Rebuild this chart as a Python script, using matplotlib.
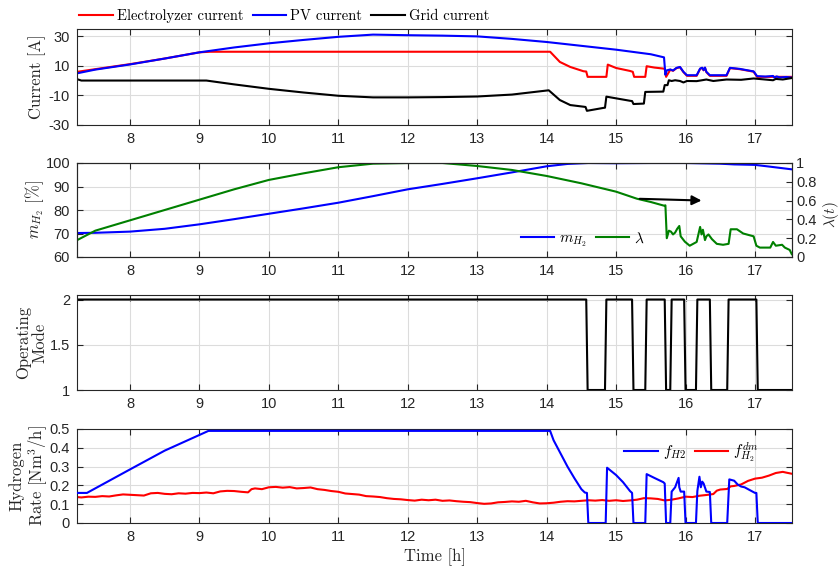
import matplotlib
matplotlib.use("Agg")
import matplotlib.pyplot as plt
from matplotlib.ticker import FormatStrFormatter

plt.rcParams["font.family"] = ["Liberation Sans", "DejaVu Sans"]
plt.rcParams["mathtext.fontset"] = "cm"
plt.rcParams["axes.unicode_minus"] = False

# ---- panel 1: currents [A] ----
pv_t = [7.24, 7.5, 8.0, 8.5, 9.0, 9.5, 10.0, 10.5, 11.0, 11.5, 12.0, 12.5, 13.0,
        13.5, 14.0, 14.5, 15.0, 15.5, 15.69, 15.71, 15.73, 15.78, 15.82, 15.87,
        15.92, 15.97, 16.02, 16.16, 16.21, 16.24, 16.26, 16.28, 16.30, 16.35,
        16.59, 16.64, 16.78, 16.98, 17.03, 17.15, 17.26, 17.28, 17.31, 17.36,
        17.45, 17.53]
pv_i = [5.0, 7.5, 11.0, 15.0, 19.2, 22.5, 25.3, 27.6, 29.7, 31.2, 30.8, 30.5,
        30.0, 28.3, 26.2, 23.6, 21.0, 17.9, 15.8, 4.0, 7.0, 7.6, 6.9, 8.7, 9.3,
        6.0, 3.7, 3.7, 8.2, 8.8, 7.2, 8.9, 6.0, 3.7, 3.7, 8.7, 8.0, 6.3, 3.1,
        2.8, 3.2, 2.1, 2.9, 2.2, 2.5, 2.1]

el_t = [7.24, 7.5, 8.0, 8.5, 9.0, 9.15, 14.05, 14.19, 14.34, 14.53, 14.57,
        14.59, 14.86, 14.88, 15.0, 15.2, 15.24, 15.26, 15.42, 15.44, 15.55,
        15.68, 15.70, 15.72, 15.78, 15.82, 15.87, 15.92, 15.97, 16.02, 16.16,
        16.21, 16.24, 16.26, 16.28, 16.30, 16.35, 16.59, 16.64, 16.78, 16.98,
        17.03, 17.53]
el_i = [6.0, 7.8, 11.2, 15.0, 19.2, 19.6, 19.6, 12.7, 9.3, 6.4, 6.2, 2.6, 2.6,
        10.9, 8.6, 6.6, 6.0, 2.6, 2.6, 9.8, 8.9, 8.2, 8.0, 2.6, 7.4, 6.7, 8.5,
        9.1, 5.8, 3.3, 3.3, 8.0, 8.6, 7.0, 8.7, 5.8, 3.3, 3.3, 8.5, 7.8, 6.1,
        2.6, 2.6]

gr_t = [7.24, 7.3, 9.1, 9.5, 10.0, 10.5, 11.0, 11.5, 12.0, 12.5, 13.0, 13.5,
        14.03, 14.19, 14.34, 14.53, 14.56, 14.58, 14.82, 14.84, 14.86, 15.2,
        15.23, 15.25, 15.40, 15.42, 15.68, 15.70, 15.74, 15.76, 15.80, 15.85,
        15.92, 15.97, 16.02, 16.16, 16.30, 16.40, 16.59, 16.80, 16.98, 17.10,
        17.26, 17.30, 17.40, 17.53]
gr_i = [1.0, 0.1, 0.1, -2.5, -5.5, -8.0, -10.2, -11.3, -11.3, -11.1, -10.7,
        -9.4, -6.5, -13.1, -16.5, -17.6, -17.8, -20.4, -18.4, -18.3, -10.8,
        -13.6, -13.8, -15.8, -15.5, -7.6, -7.4, -3.0, -3.0, 0.3, -0.2, 0.3,
        -0.2, -1.2, -0.2, -0.3, 0.8, -0.2, 0.8, 0.6, 1.5, 1.0, 0.3, 1.2, 0.8,
        1.8]

# ---- panel 2: m_H2 [%] and lambda ----
m_t = [7.24, 7.5, 8.0, 8.5, 9.0, 9.5, 10.0, 10.5, 11.0, 11.5, 12.0, 12.5, 13.0,
       13.5, 14.0, 14.3, 14.6, 15.0, 15.5, 16.0, 16.5, 16.7, 17.0, 17.2, 17.53]
m_v = [70.2, 70.3, 70.8, 72.0, 73.9, 76.1, 78.4, 80.7, 83.1, 85.9, 88.8, 91.1,
       93.5, 96.0, 98.6, 99.6, 100.0, 99.9, 100.0, 100.0, 99.7, 99.4, 99.2,
       98.5, 97.3]

lam_t = [7.24, 7.5, 8.0, 8.5, 9.0, 9.5, 10.0, 10.5, 11.0, 11.5, 12.0, 12.5,
         13.0, 13.5, 14.0, 14.5, 15.0, 15.3, 15.5, 15.69, 15.71, 15.73, 15.76,
         15.79, 15.82, 15.85, 15.88, 15.91, 15.93, 15.99, 16.06, 16.16, 16.21,
         16.23, 16.25, 16.28, 16.30, 16.33, 16.38, 16.45, 16.54, 16.62, 16.65,
         16.74, 16.83, 16.98, 17.02, 17.07, 17.22, 17.26, 17.30, 17.39, 17.43,
         17.50, 17.53]
lam_v = [0.18, 0.28, 0.39, 0.50, 0.61, 0.72, 0.82, 0.89, 0.955, 0.993, 1.0,
         1.0, 0.968, 0.926, 0.862, 0.784, 0.695, 0.62, 0.585, 0.546, 0.55, 0.2,
         0.28, 0.27, 0.24, 0.26, 0.30, 0.33, 0.22, 0.163, 0.12, 0.16, 0.32,
         0.24, 0.29, 0.18, 0.22, 0.24, 0.19, 0.14, 0.13, 0.14, 0.295, 0.295,
         0.25, 0.22, 0.12, 0.10, 0.10, 0.16, 0.12, 0.13, 0.10, 0.075, 0.03]

# ---- panel 3: operating mode ----
mode_t = [7.24, 14.57, 14.59, 14.84, 14.86, 15.23, 15.25, 15.42, 15.44, 15.70,
          15.72, 15.78, 15.80, 15.98, 16.00, 16.15, 16.17, 16.35, 16.37, 16.60,
          16.62, 17.02, 17.04, 17.53]
mode_v = [2, 2, 1, 1, 2, 2, 1, 1, 2, 2, 1, 1, 2, 2, 1, 1, 2, 2, 1, 1, 2, 2, 1, 1]

# ---- panel 4: hydrogen rate [Nm3/h] ----
f_t = [7.24, 7.38, 8.0, 8.5, 9.13, 14.05, 14.1, 14.2, 14.3, 14.4, 14.5, 14.55,
       14.58, 14.60, 14.85, 14.87, 15.0, 15.1, 15.2, 15.23, 15.25, 15.42, 15.44,
       15.55, 15.68, 15.70, 15.72, 15.78, 15.80, 15.85, 15.87, 15.90, 15.91,
       15.93, 15.98, 16.00, 16.15, 16.17, 16.20, 16.22, 16.24, 16.26, 16.30,
       16.35, 16.37, 16.60, 16.63, 16.70, 16.75, 16.80, 16.85, 16.90, 17.00,
       17.02, 17.04, 17.53]
f_v = [0.16, 0.16, 0.285, 0.385, 0.49, 0.49, 0.44, 0.37, 0.30, 0.238, 0.18,
       0.162, 0.16, 0.0, 0.0, 0.294, 0.255, 0.217, 0.17, 0.16, 0.0, 0.0, 0.26,
       0.24, 0.217, 0.21, 0.0, 0.0, 0.167, 0.19, 0.21, 0.24, 0.19, 0.167, 0.167,
       0.0, 0.0, 0.17, 0.246, 0.19, 0.22, 0.21, 0.167, 0.165, 0.0, 0.0, 0.232,
       0.225, 0.205, 0.194, 0.19, 0.18, 0.16, 0.16, 0.0, 0.0]

dm_t = [7.24, 7.3, 7.4, 7.5, 7.6, 7.7, 7.8, 7.9, 8.0, 8.1, 8.2, 8.3, 8.4, 8.5,
        8.6, 8.7, 8.8, 8.9, 9.0, 9.1, 9.2, 9.3, 9.4, 9.5, 9.6, 9.7, 9.75, 9.8,
        9.9, 10.0, 10.1, 10.2, 10.3, 10.4, 10.5, 10.6, 10.7, 10.8, 10.9, 11.0,
        11.1, 11.2, 11.3, 11.4, 11.5, 11.6, 11.7, 11.8, 11.9, 12.0, 12.1, 12.2,
        12.3, 12.4, 12.5, 12.6, 12.7, 12.8, 12.9, 13.0, 13.1, 13.2, 13.3, 13.4,
        13.5, 13.6, 13.7, 13.8, 13.9, 14.0, 14.1, 14.2, 14.3, 14.4, 14.5, 14.6,
        14.7, 14.8, 14.9, 15.0, 15.1, 15.2, 15.3, 15.4, 15.5, 15.6, 15.7, 15.8,
        15.9, 16.0, 16.1, 16.2, 16.3, 16.4, 16.45, 16.5, 16.6, 16.65, 16.7,
        16.8, 16.9, 17.0, 17.1, 17.2, 17.3, 17.4, 17.45, 17.53]
dm_v = [0.138, 0.136, 0.140, 0.139, 0.143, 0.141, 0.147, 0.152, 0.150, 0.148,
        0.146, 0.158, 0.160, 0.155, 0.153, 0.158, 0.156, 0.160, 0.159, 0.162,
        0.158, 0.168, 0.171, 0.170, 0.166, 0.163, 0.180, 0.184, 0.180, 0.190,
        0.192, 0.188, 0.191, 0.184, 0.186, 0.189, 0.180, 0.176, 0.170, 0.166,
        0.157, 0.154, 0.151, 0.143, 0.141, 0.138, 0.132, 0.128, 0.126, 0.122,
        0.119, 0.124, 0.121, 0.124, 0.118, 0.120, 0.116, 0.113, 0.111, 0.106,
        0.102, 0.104, 0.110, 0.112, 0.115, 0.113, 0.118, 0.110, 0.104, 0.105,
        0.108, 0.113, 0.116, 0.115, 0.118, 0.121, 0.119, 0.122, 0.118, 0.121,
        0.117, 0.120, 0.124, 0.132, 0.131, 0.128, 0.120, 0.124, 0.131, 0.140,
        0.138, 0.145, 0.149, 0.154, 0.172, 0.178, 0.181, 0.195, 0.197, 0.205,
        0.224, 0.236, 0.241, 0.252, 0.266, 0.272, 0.268, 0.262]

xticks = [8, 9, 10, 11, 12, 13, 14, 15, 16, 17]
xlim = (7.237, 17.533)

DARK = "#262626"
SERIF = "cmr10"
W, H = 840, 568


def box(top, bottom):
    return [77 / W, 1 - bottom / H, 715 / W, (bottom - top) / H]


def style(ax, yticks, ylim, ylabel, label_x=-0.043):
    ax.set_xlim(*xlim)
    ax.set_ylim(*ylim)
    ax.set_xticks(xticks)
    ax.set_yticks(yticks)
    ax.yaxis.set_major_formatter(FormatStrFormatter("%g"))
    ax.grid(True, color="#dcdcdc", linewidth=0.8)
    ax.set_axisbelow(True)
    ax.tick_params(direction="in", top=True, right=True, length=4,
                   labelsize=10.5, colors=DARK, pad=5)
    for sp in ax.spines.values():
        sp.set_color(DARK)
        sp.set_linewidth(0.8)
    ax.set_ylabel(ylabel, family=SERIF, fontsize=12, color=DARK,
                  linespacing=1.1)
    ax.yaxis.set_label_coords(label_x, 0.5)


fig = plt.figure(figsize=(W / 100, H / 100), dpi=100)

# panel 1
ax1 = fig.add_axes(box(29, 125))
ax1.plot(el_t, el_i, color="red", lw=1.5, label="Electrolyzer current")
ax1.plot(pv_t, pv_i, color="blue", lw=1.5, label="PV current")
ax1.plot(gr_t, gr_i, color="black", lw=1.5, label="Grid current")
style(ax1, [-30, -10, 10, 30], (-30, 35), "Current [A]")
ax1.legend(loc="lower left", bbox_to_anchor=(-0.005, 1.0), ncol=3,
           frameon=False, borderaxespad=0.0, handlelength=2.3,
           handletextpad=0.3, columnspacing=0.6,
           prop={"family": SERIF, "size": 10.5})

# panel 2
ax2 = fig.add_axes(box(163, 257))
l1, = ax2.plot(m_t, m_v, color="blue", lw=1.5, label=r"$m_{H_2}$")
style(ax2, [60, 70, 80, 90, 100], (60, 100), r"$m_{H_2}$ [%]")
ax2r = ax2.twinx()
l2, = ax2r.plot(lam_t, lam_v, color="green", lw=1.5, label=r"$\lambda$")
ax2r.set_xlim(*xlim)
ax2r.set_ylim(0, 1)
ax2r.set_yticks([0, 0.2, 0.4, 0.6, 0.8, 1])
ax2r.yaxis.set_major_formatter(FormatStrFormatter("%g"))
ax2r.tick_params(direction="in", length=4, labelsize=10.5, colors=DARK, pad=3)
for sp in ax2r.spines.values():
    sp.set_color(DARK)
    sp.set_linewidth(0.8)
ax2r.set_ylabel(r"$\lambda(t)$", fontsize=11, color=DARK)
ax2r.yaxis.set_label_coords(1.04, 0.45)
ax2r.annotate("", xy=(16.27, 0.60), xytext=(15.3, 0.62),
              arrowprops=dict(arrowstyle="-|>", color="black", lw=1.5,
                              mutation_scale=14))
ax2r.legend([l1, l2], [r"$m_{H_2}$", r"$\lambda$"], loc="center left",
            bbox_to_anchor=(0.612, 0.18), frameon=False, borderaxespad=0,
            handlelength=2.2, handletextpad=0.3, columnspacing=0.6, ncol=2,
            prop={"family": SERIF, "size": 11})

# panel 3
ax3 = fig.add_axes(box(295, 390))
ax3.plot(mode_t, mode_v, color="black", lw=1.5)
style(ax3, [1, 1.5, 2], (1, 2.05), "Operating\nMode", label_x=-0.041)

# panel 4
ax4 = fig.add_axes(box(429, 523))
ax4.plot(dm_t, dm_v, color="red", lw=1.5, label=r"$f_{H_2}^{dm}$", zorder=2)
ax4.plot(f_t, f_v, color="blue", lw=1.5, label=r"$f_{H2}$", zorder=3)
style(ax4, [0, 0.1, 0.2, 0.3, 0.4, 0.5], (0, 0.5),
      "Hydrogen\nRate [Nm$^3$/h]", label_x=-0.038)
handles, labels = ax4.get_legend_handles_labels()
ax4.legend(handles[::-1], labels[::-1], loc="center left",
           bbox_to_anchor=(0.757, 0.75), frameon=False, borderaxespad=0,
           handlelength=2.2, handletextpad=0.3, columnspacing=0.6, ncol=2,
           prop={"family": SERIF, "size": 11})
ax4.set_xlabel("Time [h]", family=SERIF, fontsize=12, color=DARK, labelpad=3)

fig.savefig("out.png", dpi=100)
